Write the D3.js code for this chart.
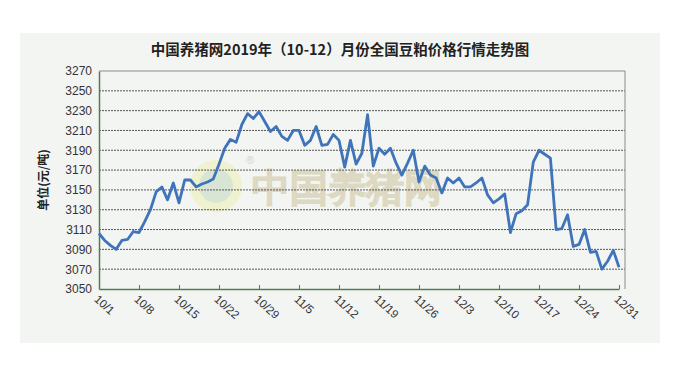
<!DOCTYPE html>
<html>
<head>
<meta charset="utf-8">
<script src="https://cdn.jsdelivr.net/npm/d3@7"></script>
<style>
  body { margin: 0; background: #fff; }
  text { font-family: "Liberation Sans", Arial, sans-serif; }
</style>
</head>
<body>
<div id="chart"></div>
<script>
// 2019-10-01 .. 2019-12-31, one price per day (元/吨)
const prices = [
    3106, 3099, 3094, 3090, 3099, 3100, 3108, 3107, 3118, 3130,
    3148, 3153, 3140, 3157, 3137, 3160, 3160, 3153, 3156, 3158,
    3161, 3176, 3192, 3201, 3198, 3216, 3227, 3222, 3229, 3219,
    3209, 3214, 3204, 3200, 3210, 3210, 3195, 3200, 3214, 3195,
    3196, 3206, 3200, 3173, 3200, 3176, 3187, 3226, 3174, 3192,
    3186, 3192, 3177, 3165, 3177, 3190, 3158, 3174, 3165, 3162,
    3147, 3162, 3157, 3162, 3153, 3153, 3157, 3162, 3145, 3137,
    3141, 3146, 3107, 3126, 3129, 3135, 3178, 3190, 3186, 3182,
    3110, 3111, 3125, 3093, 3095, 3110, 3087, 3088, 3070, 3078,
    3089, 3072
];
const startDate = new Date(2019, 9, 1);
const endDate = new Date(2019, 11, 31);
const yTicks = [3050, 3070, 3090, 3110, 3130, 3150, 3170, 3190, 3210, 3230, 3250, 3270];
const titleText = "中国养猪网2019年（10-12）月份全国豆粕价格行情走势图";
const yLabel = "单位(元/吨)";
const watermark = "中国养猪网";

const width = 680, height = 370;
const plot = { left: 99, right: 625, top: 71, bottom: 289 };

const svg = d3.select('#chart')
    .append('svg')
    .attr('width', width)
    .attr('height', height);

// light panel behind the chart
svg.append('rect')
    .attr('x', 20).attr('y', 33)
    .attr('width', 640).attr('height', 310)
    .attr('fill', '#f3f5f3');

const dates = d3.timeDay.range(startDate, d3.timeDay.offset(endDate, 1));
const data = dates.map((d, i) => ({ date: d, value: prices[i] }));

const x = d3.scaleTime()
    .domain([startDate, endDate])
    .range([plot.left, 619]);

const y = d3.scaleLinear()
    .domain([3050, 3270])
    .range([plot.bottom, plot.top]);

// watermark
const wm = svg.append('g').attr('opacity', 0.6);
wm.append('circle')
    .attr('cx', 216).attr('cy', 186).attr('r', 26)
    .attr('fill', '#eef0b8');
wm.append('circle')
    .attr('cx', 216).attr('cy', 186).attr('r', 17)
    .attr('fill', '#c9dcc0');
wm.append('text')
    .attr('x', 246).attr('y', 164)
    .attr('font-size', 11)
    .attr('fill', '#bbb')
    .text('®');
wm.append('text')
    .attr('x', 252).attr('y', 201)
    .attr('font-size', 38)
    .attr('font-weight', 'bold')
    .attr('font-family', '"Noto Sans CJK SC"')
    .attr('fill', '#f2df9a')
    .attr('stroke', '#cfc6a0')
    .attr('stroke-width', 1.2)
    .text(watermark);

// gridlines
svg.append('g')
    .selectAll('line')
    .data(yTicks.filter(t => t > 3050 && t < 3270))
    .join('line')
    .attr('x1', plot.left).attr('x2', plot.right)
    .attr('y1', d => y(d)).attr('y2', d => y(d))
    .attr('stroke', '#555')
    .attr('stroke-width', 1)
    .attr('stroke-dasharray', '2,1');

// plot frame: top/right grey, left/bottom green
svg.append('line')
    .attr('x1', plot.left).attr('x2', plot.right)
    .attr('y1', plot.top).attr('y2', plot.top)
    .attr('stroke', '#8a8a8a');
svg.append('line')
    .attr('x1', plot.right).attr('x2', plot.right)
    .attr('y1', plot.top).attr('y2', plot.bottom)
    .attr('stroke', '#8a8a8a');

// y axis
const yAxis = svg.append('g')
    .attr('transform', 'translate(' + plot.left + ',0)')
    .call(d3.axisLeft(y).tickValues(yTicks).tickFormat(d3.format('d')).tickSize(0).tickPadding(7));
yAxis.select('.domain').attr('stroke', '#4f7f4f').attr('stroke-width', 1.5);
yAxis.selectAll('text')
    .attr('font-size', 12)
    .attr('fill', '#333');

// x axis
const xAxis = svg.append('g')
    .attr('transform', 'translate(0,' + plot.bottom + ')')
    .call(d3.axisBottom(x)
        .tickValues(d3.timeDay.range(startDate, d3.timeDay.offset(endDate, 1), 7))
        .tickFormat(d3.timeFormat('%-m/%-d'))
        .tickSize(-4)
        .tickSizeOuter(0));
xAxis.select('.domain').attr('stroke', '#4f7f4f').attr('stroke-width', 1.5);
xAxis.selectAll('.tick line').attr('stroke', '#4f7f4f');
xAxis.selectAll('text')
    .attr('font-size', 11.5)
    .attr('fill', '#333')
    .attr('text-anchor', 'start')
    .attr('dy', 0)
    .attr('transform', 'translate(-4,9) rotate(42)');

// price line
svg.append('path')
    .datum(data)
    .attr('fill', 'none')
    .attr('stroke', '#3f74ba')
    .attr('stroke-width', 2.8)
    .attr('stroke-linejoin', 'round')
    .attr('d', d3.line()
        .x(d => x(d.date))
        .y(d => y(d.value)));

// title
svg.append('text')
    .attr('x', 340).attr('y', 55)
    .attr('text-anchor', 'middle')
    .attr('font-size', 14.5)
    .attr('font-weight', 'bold')
    .style('font-family', '"Noto Sans CJK SC", sans-serif')
    .attr('fill', '#222')
    .text(titleText);

// y axis title
svg.append('text')
    .attr('transform', 'translate(48,180) rotate(-90)')
    .attr('text-anchor', 'middle')
    .attr('font-size', 12)
    .attr('font-weight', 'bold')
    .style('font-family', '"Noto Sans CJK SC", sans-serif')
    .attr('fill', '#222')
    .text(yLabel);
</script>
</body>
</html>
